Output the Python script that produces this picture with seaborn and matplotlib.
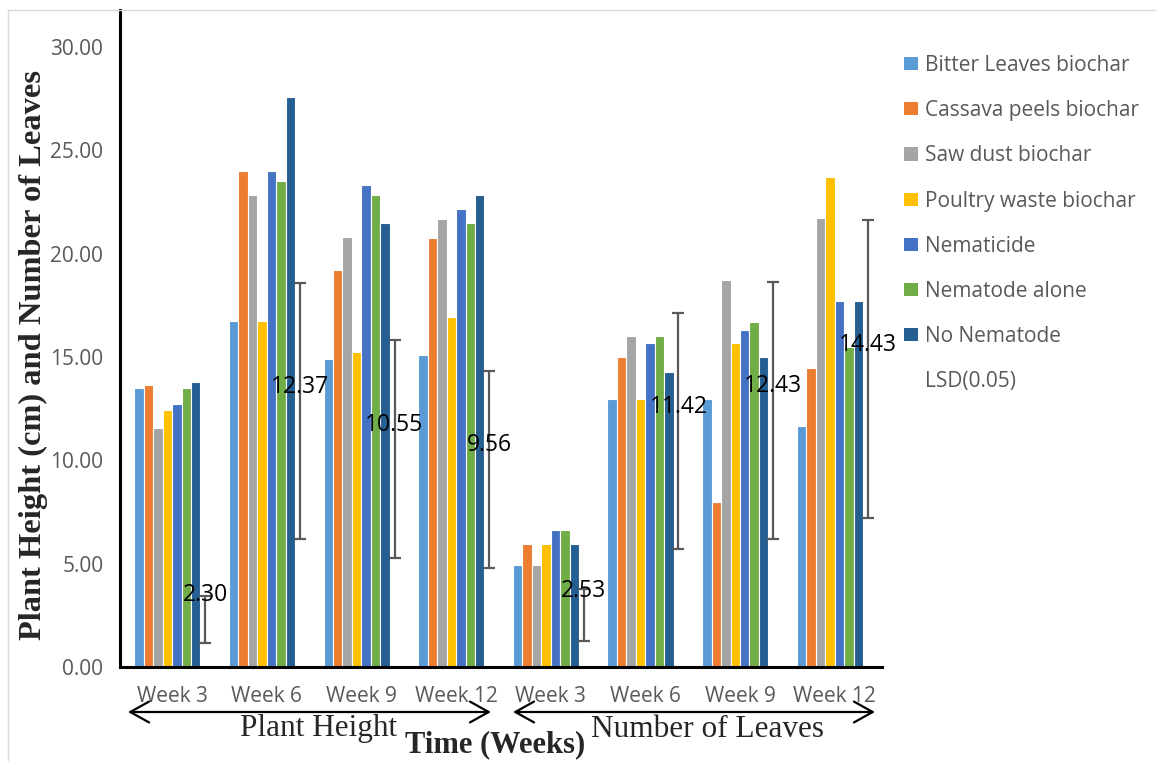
import numpy as np
import pandas as pd
import matplotlib
matplotlib.use("Agg")
import matplotlib.pyplot as plt
import seaborn as sns
from matplotlib.patches import FancyArrowPatch, Patch
from matplotlib.lines import Line2D
from matplotlib.ticker import FormatStrFormatter

# ---------------- data ----------------
groups = ["Plant Height"] * 4 + ["Number of Leaves"] * 4
weeks = ["Week 3", "Week 6", "Week 9", "Week 12"] * 2
series = ["Bitter Leaves biochar", "Cassava peels biochar", "Saw dust biochar",
          "Poultry waste biochar", "Nematicide", "Nematode alone", "No Nematode"]
lsd_name = "LSD(0.05)"

bitter = [13.50, 16.76, 14.92, 15.11, 4.95, 12.96, 12.96, 11.66]
cassava = [13.64, 24.00, 19.18, 20.75, 5.95, 14.99, 7.96, 14.47]
sawdust = [11.58, 22.81, 20.79, 21.66, 4.95, 16.00, 18.70, 21.71]
poultry = [12.44, 16.76, 15.26, 16.95, 5.95, 12.96, 15.69, 23.72]
nematicide = [12.72, 24.00, 23.32, 22.16, 6.62, 15.69, 16.28, 17.69]
nematode_alone = [13.50, 23.50, 22.81, 21.50, 6.62, 16.00, 16.69, 15.50]
no_nematode = [13.79, 27.57, 21.50, 22.85, 5.95, 14.27, 14.99, 17.69]
lsd = [2.30, 12.37, 10.55, 9.56, 2.53, 11.42, 12.43, 14.43]

colors = ["#5B9BD5", "#ED7D31", "#A5A5A5", "#FFC000", "#4472C4", "#70AD47", "#255E91"]

# ---------------- build table ----------------
keys = [f"{g}|{w}" for g, w in zip(groups, weeks)]
all_series = series + [lsd_name]
all_vals = [bitter, cassava, sawdust, poultry, nematicide, nematode_alone, no_nematode, lsd]
rows = []
for name, vals in zip(all_series, all_vals):
    for k, v in zip(keys, vals):
        rows.append({"cat": k, "series": name, "value": v})
df = pd.DataFrame(rows)

palette = dict(zip(series, colors))
palette[lsd_name] = "#FFFFFF"

# ---------------- plot ----------------
sns.set_theme(style="white")
plt.rcParams["font.family"] = ["Open Sans", "DejaVu Sans"]

W, H = 1156, 761
fig = plt.figure(figsize=(W / 100, H / 100), dpi=100)
ax = fig.add_axes([120 / W, 1 - 667 / H, 762 / W, 657 / H])

sns.barplot(data=df, x="cat", y="value", hue="series", order=keys, hue_order=all_series,
            palette=palette, width=0.8, saturation=1, errorbar=None,
            edgecolor="white", linewidth=0.8, legend=False, ax=ax)

# hide the LSD bars, keep their positions for error bars
lsd_container = ax.containers[-1]
xs, vs = [], []
for bar in lsd_container:
    bar.set_visible(False)
    xs.append(bar.get_x() + bar.get_width() / 2)
    vs.append(bar.get_height())
xs = np.array(xs)
vs = np.array(vs)

ax.errorbar(xs, vs, yerr=vs / 2, fmt="none", ecolor="#595959", elinewidth=1.6,
            capsize=4.5, capthick=1.6, zorder=5)
for x, v in zip(xs, vs):
    ax.annotate(f"{v:.2f}", (x, v), xytext=(0, 17.3), textcoords="offset points",
                ha="center", va="center", fontsize=16.5, color="black", zorder=6)

ax.set_xlim(-0.55, 7.5)
ax.set_ylim(0, 31.78)
ax.set_yticks(np.arange(0, 31, 5))
ax.yaxis.set_major_formatter(FormatStrFormatter("%.2f"))
ax.set_xticks(range(len(keys)))
ax.set_xticklabels(weeks)
ax.tick_params(axis="x", length=0, pad=14, labelsize=15, labelcolor="#595959")
ax.tick_params(axis="y", length=0, pad=12, labelsize=15, labelcolor="#595959")
ax.set_xlabel("")
ax.set_ylabel("")
for s in ["top", "right"]:
    ax.spines[s].set_visible(False)
for s in ["left", "bottom"]:
    ax.spines[s].set_color("black")
    ax.spines[s].set_linewidth(2.2)

# legend
handles = [Patch(facecolor=c, edgecolor="none") for c in colors]
handles.append(Patch(facecolor="none", edgecolor="none"))
fig.legend(handles, all_series, loc="upper left", bbox_to_anchor=(904 / W, 1 - 55 / H),
           frameon=False, fontsize=15, handlelength=0.65, handleheight=0.6,
           handletextpad=0.35, labelspacing=1.16, borderpad=0, borderaxespad=0,
           labelcolor="#595959")

# axis titles
serif = ["Liberation Serif", "DejaVu Serif"]
fig.text(33 / W, 1 - 354.5 / H, "Plant Height (cm) and Number of Leaves", rotation=90,
         ha="center", va="center", fontsize=23.4, fontweight="bold", family=serif)
fig.text(495.5 / W, 1 - 752 / H, "Time (Weeks)", ha="center", va="baseline",
         fontsize=22, fontweight="bold", family=serif)
fig.text(318.5 / W, 1 - 736 / H, "Plant Height", ha="center", va="baseline",
         fontsize=22.5, family=serif)
fig.text(707.5 / W, 1 - 737 / H, "Number of Leaves", ha="center", va="baseline",
         fontsize=22.5, family=serif)

# double-headed arrows
for x0, x1 in [(128, 491), (513, 875)]:
    arr = FancyArrowPatch(posA=(x0 / W, 1 - 712 / H), posB=(x1 / W, 1 - 712 / H),
                          transform=fig.transFigure,
                          arrowstyle="<->,head_length=0.9,head_width=0.5",
                          mutation_scale=15, lw=1.6, color="black",
                          shrinkA=0, shrinkB=0)
    fig.add_artist(arr)

# chart-area border (left and top)
fig.add_artist(Line2D([8 / W, 8 / W], [0, 1 - 10 / H], transform=fig.transFigure,
                      color="#d9d9d9", lw=1))
fig.add_artist(Line2D([8 / W, 1], [1 - 10 / H, 1 - 10 / H], transform=fig.transFigure,
                      color="#d9d9d9", lw=1))

fig.savefig("out.png", dpi=100)
